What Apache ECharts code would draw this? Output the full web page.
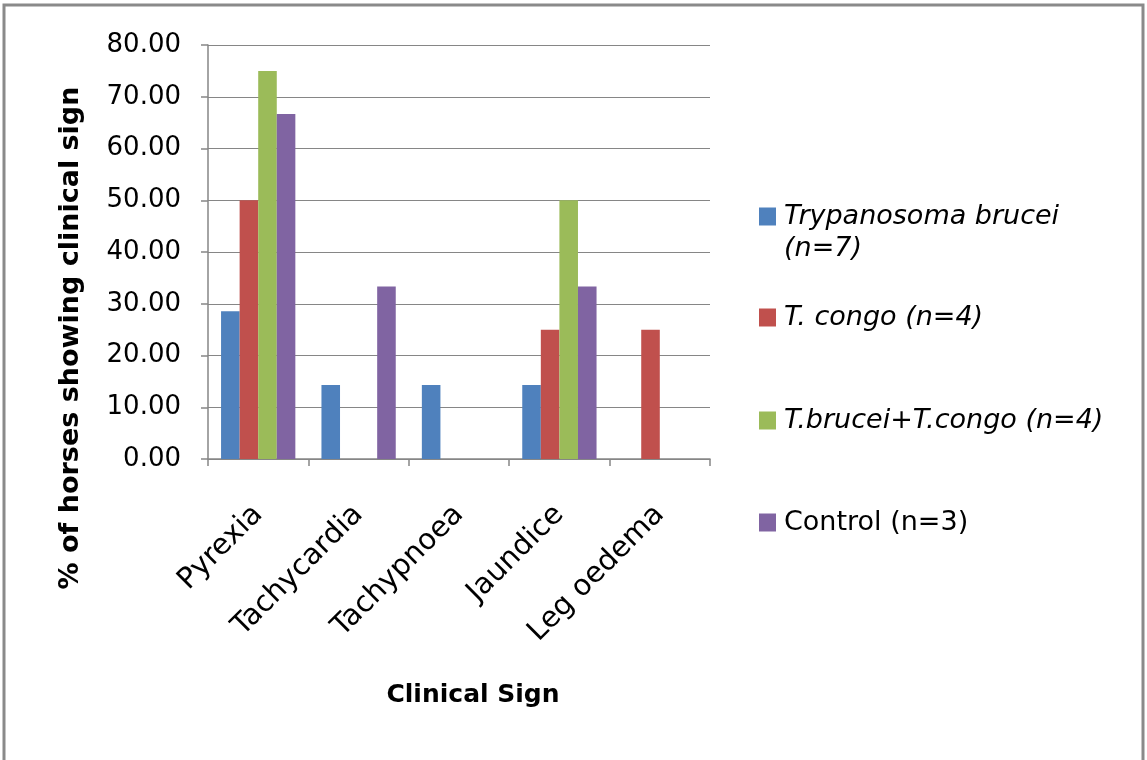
<!DOCTYPE html>
<html><head><meta charset="utf-8">
<script src="https://cdn.jsdelivr.net/npm/echarts@6/dist/echarts.min.js"></script>
<style>html,body{margin:0;padding:0;background:#fff}#c{width:1147px;height:760px}</style>
</head><body><div id="c"></div>
<script>
const categories = ['Pyrexia', 'Tachycardia', 'Tachypnoea', 'Jaundice', 'Leg oedema'];
const seriesNames = ['Trypanosoma brucei (n=7)', 'T. congo (n=4)', 'T.brucei+T.congo (n=4)', 'Control (n=3)'];
const bruceiValues = [28.57, 14.29, 14.29, 14.29, 0];
const congoValues = [50, 0, 0, 25, 25];
const mixedValues = [75, 0, 0, 50, 0];
const controlValues = [66.67, 33.33, 0, 33.33, 0];
const yTicks = [0, 10, 20, 30, 40, 50, 60, 70, 80];
const colors = ['#4F81BD', '#C0504D', '#9BBB59', '#8064A2'];
const allValues = [bruceiValues, congoValues, mixedValues, controlValues];

const FONT = 'DejaVu Sans';
const chart = echarts.init(document.getElementById('c'), null, {renderer: 'canvas'});

const legendTops = [198, 299, 402, 504];
const legendLabels = {
  'Trypanosoma brucei (n=7)': '{i|Trypanosoma brucei}\n{i|(n=7)}',
  'T. congo (n=4)': '{i|T. congo (n=4)}',
  'T.brucei+T.congo (n=4)': '{i|T.brucei+T.congo (n=4)}',
  'Control (n=3)': '{n|Control (n=3)}'
};
const legends = seriesNames.map((nm, k) => ({
  data: [nm],
  left: 754,
  top: legendTops[k],
  orient: 'vertical',
  icon: 'rect',
  itemWidth: 17,
  itemHeight: 18,
  itemGap: 0,
  selectedMode: false,
  formatter: n => legendLabels[n],
  textStyle: {
    fontFamily: FONT, fontSize: 27, color: '#000',
    padding: k === 0 ? [32, 0, 0, 3] : [0, 0, 0, 3],
    rich: {
      i: {fontFamily: FONT, fontSize: 27, fontStyle: 'italic', color: '#000', lineHeight: 32},
      n: {fontFamily: FONT, fontSize: 27, color: '#000', lineHeight: 32}
    }
  }
}));

chart.setOption({
  animation: false,
  backgroundColor: '#fff',
  color: colors,
  grid: {left: 208, right: 437, top: 45, bottom: 301, containLabel: false},
  legend: legends,
  xAxis: {
    type: 'category',
    data: categories,
    axisLine: {show: true, lineStyle: {color: '#868686', width: 1.5}},
    axisTick: {show: true, length: 7, lineStyle: {color: '#868686', width: 1.5}},
    axisLabel: {
      rotate: 45, margin: 51, color: '#000', fontFamily: FONT, fontSize: 29, interval: 0
    }
  },
  yAxis: {
    type: 'value',
    min: yTicks[0], max: yTicks[yTicks.length - 1], interval: 10,
    axisLine: {show: true, lineStyle: {color: '#868686', width: 1.5}},
    axisTick: {show: true, length: 7, lineStyle: {color: '#868686', width: 1.5}},
    splitLine: {show: true, lineStyle: {color: '#868686', width: 1.2}},
    axisLabel: {
      margin: 27, color: '#000', fontFamily: FONT, fontSize: 26,
      formatter: v => v.toFixed(2)
    }
  },
  series: seriesNames.map((nm, k) => ({
    name: nm,
    type: 'bar',
    data: allValues[k],
    barGap: '0%',
    barCategoryGap: '26%',
    itemStyle: {color: colors[k]}
  })),
  graphic: [
    {type: 'rect', shape: {x: 4, y: 5, width: 1139, height: 800},
     style: {fill: 'none', stroke: '#8a8a8a', lineWidth: 3}, silent: true, z: 100},
    {type: 'text', x: 71, y: 338, rotation: Math.PI / 2,
     style: {text: '% of horses showing clinical sign', fontFamily: FONT, fontSize: 27,
             fontWeight: 'bold', fill: '#000', align: 'center', verticalAlign: 'middle'}},
    {type: 'text', x: 473, y: 695,
     style: {text: 'Clinical Sign', fontFamily: FONT, fontSize: 25,
             fontWeight: 'bold', fill: '#000', align: 'center', verticalAlign: 'middle'}}
  ]
});
</script>
</body></html>
